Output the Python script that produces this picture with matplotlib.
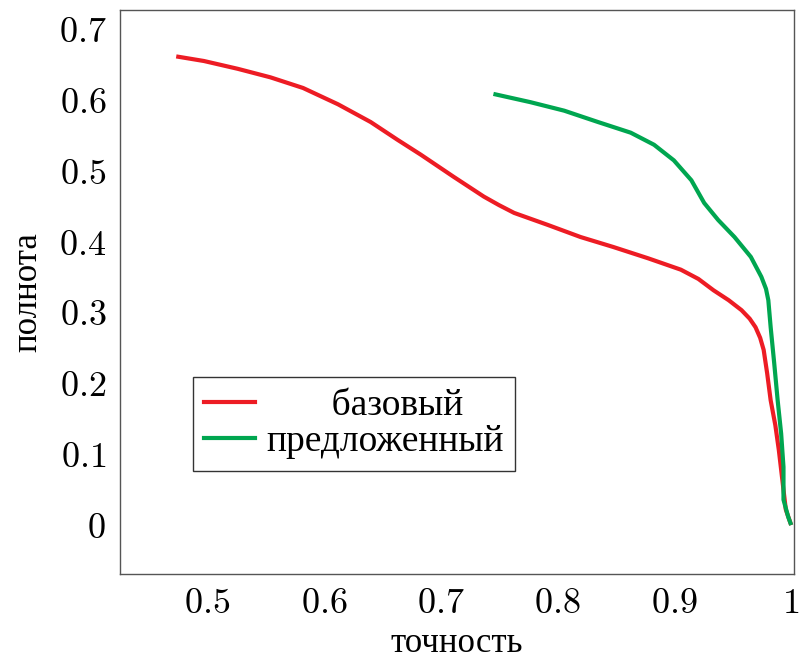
import matplotlib
matplotlib.use("Agg")
import numpy as np
from matplotlib import pyplot as plt

plt.rcParams['font.family'] = ['Liberation Serif', 'DejaVu Serif']
plt.rcParams['mathtext.fontset'] = 'cm'

# базовый (baseline) curve
base_prec = [0.475, 0.497, 0.526, 0.554, 0.582, 0.612, 0.640, 0.663, 0.683, 0.711,
             0.737, 0.750, 0.763, 0.792, 0.820, 0.848, 0.878, 0.906, 0.921, 0.934,
             0.947, 0.958, 0.965, 0.970, 0.974, 0.977, 0.980, 0.983, 0.987, 0.990,
             0.994, 0.996, 1.000]
base_rec = [0.661, 0.655, 0.644, 0.632, 0.617, 0.594, 0.569, 0.544, 0.523, 0.492,
            0.464, 0.452, 0.441, 0.424, 0.407, 0.393, 0.377, 0.361, 0.348, 0.332,
            0.318, 0.304, 0.292, 0.280, 0.265, 0.248, 0.215, 0.177, 0.142, 0.107,
            0.051, 0.023, 0.004]

# предложенный (proposed) curve
prop_prec = [0.747, 0.777, 0.806, 0.835, 0.863, 0.883, 0.900, 0.915, 0.926, 0.938,
             0.952, 0.966, 0.975, 0.979, 0.981, 0.983, 0.986, 0.989, 0.992, 0.994,
             0.994, 0.998, 1.000]
prop_rec = [0.608, 0.597, 0.585, 0.569, 0.554, 0.537, 0.515, 0.487, 0.455, 0.431,
            0.407, 0.379, 0.351, 0.334, 0.318, 0.280, 0.230, 0.177, 0.130, 0.083,
            0.037, 0.013, 0.004]

xticks = [0.5, 0.6, 0.7, 0.8, 0.9, 1.0]
xlabels = ["0.5", "0.6", "0.7", "0.8", "0.9", "1"]
yticks = [0.0, 0.1, 0.2, 0.3, 0.4, 0.5, 0.6, 0.7]
ylabels = ["0", "0.1", "0.2", "0.3", "0.4", "0.5", "0.6", "0.7"]

fig = plt.figure(figsize=(8.02, 6.6), dpi=100)
ax = fig.add_axes([0.1496, 0.130, 0.8404, 0.855])

ax.plot(base_prec, base_rec, color='#ed1c24', lw=3, label='       базовый')
ax.plot(prop_prec, prop_rec, color='#00a650', lw=3, label='предложенный')

ax.set_xlim(0.425, 1.003)
ax.set_ylim(-0.068, 0.727)
ax.set_xticks(xticks)
ax.set_xticklabels(['$%s$' % s for s in xlabels])
ax.set_yticks(yticks)
ax.set_yticklabels(['$%s$' % s for s in ylabels])
ax.tick_params(length=0, labelsize=26, pad=10)

for s in ax.spines.values():
    s.set_color('#555555')
    s.set_linewidth(1.0)

ax.set_xlabel('точность', fontsize=25, labelpad=4)
ax.set_ylabel('полнота', fontsize=25, labelpad=10)

leg = ax.legend(loc='upper left', bbox_to_anchor=(0.108, 0.349), borderaxespad=0,
                fancybox=False, edgecolor='#333333', fontsize=27,
                handlelength=1.35, handletextpad=0.3, borderpad=0.3,
                labelspacing=0.05, framealpha=1)
leg.get_frame().set_linewidth(1.0)

fig.savefig('out.png', dpi=100)
